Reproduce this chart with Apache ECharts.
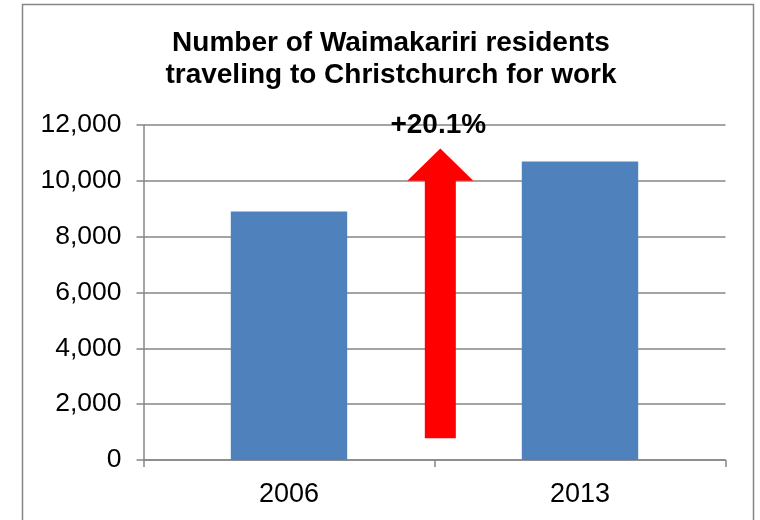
<!DOCTYPE html>
<html>
<head>
<meta charset="utf-8">
<script src="https://cdn.jsdelivr.net/npm/echarts@6/dist/echarts.min.js"></script>
<style>
  html, body { margin: 0; padding: 0; background: #fff; }
  #chart { width: 760px; height: 520px; }
</style>
</head>
<body>
<div id="chart"></div>
<script>
// Census years and commuter counts
const years = ['2006', '2013'];
const commuters = [8900, 10690];

// Arrow drawn between the bars: [x position on the helper axis, tail, head base, tip]
const arrowX = 1.02;
const arrowTail = 775;
const arrowHeadBase = 10000;
const arrowTip = 11160;
const arrowLabelY = 12000;

// Percentage growth shown above the arrow, derived from the two counts
const growthPct = ((commuters[1] / commuters[0] - 1) * 100).toFixed(1);
const growthLabel = '+' + growthPct + '%';

const FONT = 'Liberation Sans, Arial, sans-serif';
const GRID_COLOR = '#868686';

const chart = echarts.init(document.getElementById('chart'), null, { renderer: 'canvas' });

chart.setOption({
  animation: false,
  backgroundColor: '#fff',
  title: {
    text: 'Number of Waimakariri residents\ntraveling to Christchurch for work',
    left: 391,
    textAlign: 'center',
    top: 27,
    padding: 0,
    textStyle: {
      fontFamily: FONT,
      fontWeight: 'bold',
      fontSize: 28,
      lineHeight: 32,
      color: '#000'
    }
  },
  graphic: [{
    type: 'rect',
    shape: { x: 22.5, y: 4.5, width: 731, height: 540 },
    style: { fill: 'none', stroke: GRID_COLOR, lineWidth: 1.5 },
    silent: true
  }],
  grid: { left: 143.5, right: 34.5, top: 125, bottom: 60 },
  xAxis: [{
    type: 'category',
    data: years,
    boundaryGap: true,
    axisLine: { lineStyle: { color: GRID_COLOR, width: 1.5 } },
    axisTick: { show: true, length: 7, alignWithLabel: false, lineStyle: { color: GRID_COLOR, width: 1.5 } },
    axisLabel: { color: '#000', fontFamily: FONT, fontSize: 27, margin: 21 }
  }, {
    // helper axis for placing the arrow between the categories
    type: 'value',
    min: 0,
    max: 2,
    show: false
  }],
  yAxis: {
    type: 'value',
    min: 0,
    max: 12000,
    interval: 2000,
    axisLine: { show: true, lineStyle: { color: GRID_COLOR, width: 1.5 } },
    axisTick: { show: true, length: 7, lineStyle: { color: GRID_COLOR, width: 1.5 } },
    splitLine: { lineStyle: { color: GRID_COLOR, width: 1.5 } },
    axisLabel: {
      color: '#000',
      fontFamily: FONT,
      fontSize: 26.5,
      margin: 22,
      formatter: v => v.toLocaleString('en-US')
    }
  },
  series: [{
    type: 'bar',
    data: commuters,
    barWidth: '40%',
    itemStyle: { color: '#4F81BD' },
    z: 2
  }, {
    type: 'custom',
    xAxisIndex: 1,
    data: [[arrowX, arrowTail, arrowHeadBase, arrowTip]],
    encode: { x: 0, y: [1, 2, 3] },
    z: 3,
    renderItem: function (params, api) {
      const x = api.value(0);
      const tail = api.coord([x, api.value(1)]);
      const base = api.coord([x, api.value(2)]);
      const tip = api.coord([x, api.value(3)]);
      const labelPt = api.coord([x, arrowLabelY]);
      const cx = tail[0];
      const shaftHalf = 15.5;
      const headHalf = 33;
      return {
        type: 'group',
        children: [{
          type: 'polygon',
          shape: {
            points: [
              [cx - shaftHalf, tail[1]],
              [cx + shaftHalf, tail[1]],
              [cx + shaftHalf, base[1]],
              [cx + headHalf, base[1]],
              [cx, tip[1]],
              [cx - headHalf, base[1]],
              [cx - shaftHalf, base[1]]
            ]
          },
          style: { fill: '#FF0000' }
        }, {
          type: 'text',
          x: cx - 2,
          y: labelPt[1],
          style: {
            text: growthLabel,
            fill: '#000',
            font: 'bold 28px ' + FONT,
            align: 'center',
            verticalAlign: 'middle'
          }
        }]
      };
    }
  }]
});
</script>
</body>
</html>
